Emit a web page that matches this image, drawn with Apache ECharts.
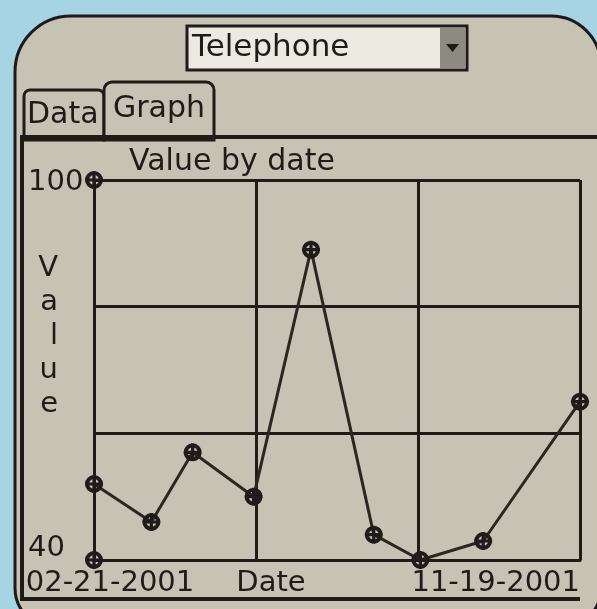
<!DOCTYPE html>
<html>
<head>
<meta charset="utf-8">
<script src="https://cdn.jsdelivr.net/npm/echarts@6/dist/echarts.min.js"></script>
<style>
  html, body { margin: 0; padding: 0; background: #a6d4e2; }
  #chart { width: 597px; height: 609px; }
</style>
</head>
<body>
<div id="chart"></div>
<script>
// Readings for the selected category, one per date
const category = 'Telephone';
const dates = ['02-21-2001', '03-25-2001', '04-17-2001', '05-21-2001', '06-22-2001',
               '07-27-2001', '08-22-2001', '09-26-2001', '11-19-2001'];
const values = [52, 46, 57, 50, 89, 44, 40, 43, 65];
// Range markers drawn at the ends of the value axis
const rangeValues = [100, 40];
const yTicks = [40, 60, 80, 100];

const ink = '#1f1b19';
const screen = '#c7c3b4';
const fontFamily = '"DejaVu Sans", sans-serif';
const fs = 29;

function dayNumber(s) {
  const [m, d, y] = s.split('-').map(Number);
  return Date.UTC(y, m - 1, d) / 86400000;
}
const day0 = dayNumber(dates[0]);
const dayN = dayNumber(dates[dates.length - 1]);
const lineData = dates.map((d, i) => [dayNumber(d) - day0, values[i]]);
const rangeData = rangeValues.map(v => [0, v]);

// Palm-style point marker: ring with a cross through it
const marker = 'path://M0,-10A10,10 0 1,1 0,10A10,10 0 1,1 0,-10Z' +
  'M0,-5.5A5.5,5.5 0 1,0 0,5.5A5.5,5.5 0 1,0 0,-5.5Z' +
  'M-10,-1.8L10,-1.8L10,1.8L-10,1.8Z' +
  'M-1.8,-10L1.8,-10L1.8,10L-1.8,10Z';

const chart = echarts.init(document.getElementById('chart'));
chart.setOption({
  backgroundColor: '#a6d4e2',
  animation: false,
  textStyle: { fontFamily },
  graphic: [
    // device screen
    { type: 'rect', z: -10, shape: { x: 15, y: 16, width: 586, height: 612, r: [56, 50, 40, 40] },
      style: { fill: screen, stroke: '#1c1a1d', lineWidth: 3 } },
    // selector box
    { type: 'rect', z: -5, shape: { x: 187, y: 26, width: 280, height: 44 },
      style: { fill: '#ebe9e0', stroke: ink, lineWidth: 3 } },
    { type: 'rect', z: -4, shape: { x: 440, y: 28, width: 25, height: 40 },
      style: { fill: '#8d8a82' } },
    { type: 'polygon', z: -3, shape: { points: [[446, 44], [459, 44], [452.5, 52]] },
      style: { fill: ink } },
    { type: 'text', z: -3, style: { x: 192, y: 48, text: category, fill: ink,
      font: '31px ' + fontFamily, verticalAlign: 'middle' } },
    // tabs
    { type: 'rect', z: -5, shape: { x: 24, y: 90, width: 80, height: 50, r: [6, 6, 0, 0] },
      style: { fill: screen, stroke: ink, lineWidth: 3 } },
    { type: 'rect', z: -5, shape: { x: 104, y: 82, width: 110, height: 58, r: [8, 8, 0, 0] },
      style: { fill: screen, stroke: ink, lineWidth: 3 } },
    { type: 'text', z: -3, style: { x: 27, y: 115, text: 'Data', fill: ink,
      font: '30px ' + fontFamily, verticalAlign: 'middle' } },
    { type: 'text', z: -3, style: { x: 113, y: 109, text: 'Graph', fill: ink,
      font: '30px ' + fontFamily, verticalAlign: 'middle' } },
    // graph panel frame
    { type: 'polyline', z: -2, shape: { points: [[22, 137], [601, 137]] },
      style: { stroke: ink, lineWidth: 4 } },
    { type: 'polyline', z: -2, shape: { points: [[22, 135], [22, 599], [580, 599]] },
      style: { stroke: ink, lineWidth: 4, fill: null } }
  ],
  title: {
    text: 'Value by date',
    left: 129, top: 147,
    padding: 0,
    textStyle: { fontSize: 30, fontWeight: 'normal', color: ink, fontFamily }
  },
  grid: { left: 94, right: 17, top: 180, bottom: 49, containLabel: false, outerBoundsMode: 'none' },
  xAxis: {
    type: 'value',
    min: 0,
    max: dayN - day0,
    interval: (dayN - day0) / 3,
    name: 'Date',
    nameLocation: 'middle',
    nameGap: 9,
    nameMoveOverlap: false,
    nameTextStyle: { fontSize: fs, color: ink, padding: [0, 132, 0, 0], verticalAlign: 'top' },
    axisLine: { show: true, lineStyle: { color: ink, width: 3 } },
    axisTick: { show: false },
    splitLine: { show: true, lineStyle: { color: ink, width: 3 } },
    axisLabel: {
      margin: 9,
      color: ink,
      fontSize: fs,
      showMinLabel: true,
      showMaxLabel: true,
      alignMaxLabel: 'right',
      formatter: v => {
        if (v === 0) return '{first|' + dates[0] + '}';
        if (Math.abs(v - (dayN - day0)) < 0.5) return '{last|' + dates[dates.length - 1] + '}';
        return '';
      },
      rich: {
        first: { fontSize: fs, color: ink, padding: [0, 0, 0, 32] },
        last: { fontSize: fs, color: ink, padding: [0, 0, 0, 0] }
      }
    }
  },
  yAxis: {
    type: 'value',
    min: yTicks[0],
    max: yTicks[yTicks.length - 1],
    interval: 20,
    // letters stacked vertically; the trailing blank lines lift the word above centre
    name: 'V\na\nl\nu\ne\n \n ',
    nameLocation: 'middle',
    nameRotate: 0,
    nameGap: 36,
    nameMoveOverlap: false,
    nameTextStyle: { fontSize: fs, color: ink, lineHeight: 34 },
    axisLine: { show: true, lineStyle: { color: ink, width: 3 } },
    axisTick: { show: false },
    splitLine: { show: true, lineStyle: { color: ink, width: 3 } },
    axisLabel: {
      margin: 66,
      align: 'left',
      color: ink,
      fontSize: fs,
      formatter: v => {
        if (v === yTicks[yTicks.length - 1]) return '{hi|' + v + '}';
        if (v === yTicks[0]) return '{lo|' + v + '}';
        return '';
      },
      rich: {
        hi: { fontSize: fs, color: ink, padding: [4, 0, 0, 0] },
        lo: { fontSize: fs, color: ink, padding: [0, 0, 24, 0] }
      }
    }
  },
  series: [
    {
      type: 'line',
      data: lineData,
      symbol: marker,
      symbolSize: 18,
      clip: false,
      z: 5,
      lineStyle: { color: '#2b2622', width: 3 },
      itemStyle: { color: ink, opacity: 1 }
    },
    {
      type: 'scatter',
      data: rangeData,
      symbol: marker,
      symbolSize: 18,
      clip: false,
      z: 5,
      itemStyle: { color: ink, opacity: 1 }
    }
  ]
});
</script>
</body>
</html>
